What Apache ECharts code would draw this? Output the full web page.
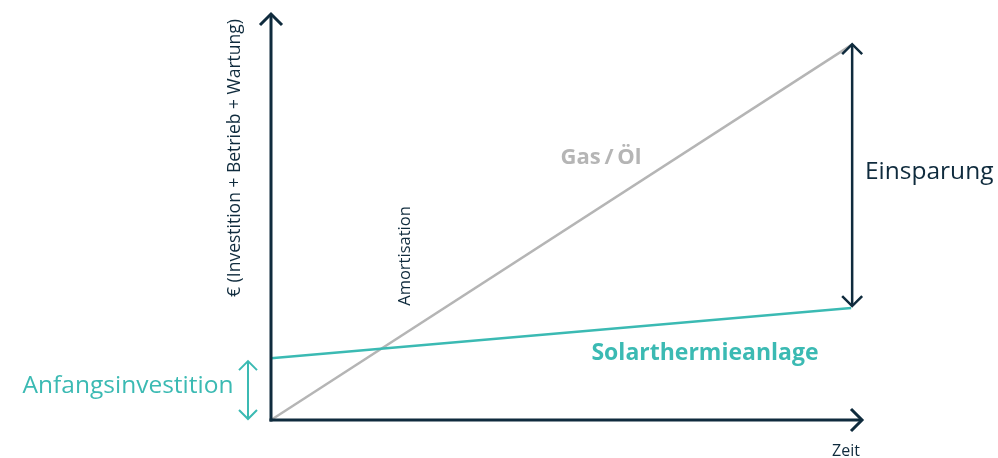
<!DOCTYPE html>
<html>
<head>
<meta charset="utf-8">
<script src="https://cdn.jsdelivr.net/npm/echarts@6/dist/echarts.min.js"></script>
<style>
  html, body { margin: 0; padding: 0; background: #ffffff; }
  #chart { width: 998px; height: 458px; }
</style>
</head>
<body>
<div id="chart"></div>
<script>
// Cost over time: gas/oil heating vs. solar thermal system (schematic)
const time = [0, 9.8];
const gasCost = [0, 9.21];
const solarCost = [1.52, 2.75];
const axisRange = { x: 10, y: 10 };

const NAVY = '#0f2b3d';
const TEAL = '#3bbab3';
const GRAY = '#b5b5b5';
const FONT = '"Open Sans", "Noto Sans", sans-serif';

const chart = echarts.init(document.getElementById('chart'), null, { renderer: 'canvas' });

function chevron(tip, dir, size, style) {
  const px = -dir[1], py = dir[0];
  return {
    type: 'polyline',
    shape: {
      points: [
        [tip[0] - dir[0] * size + px * size, tip[1] - dir[1] * size + py * size],
        tip,
        [tip[0] - dir[0] * size - px * size, tip[1] - dir[1] * size - py * size]
      ]
    },
    style: style
  };
}

function renderArrows(params, api) {
  const o = api.coord([0, 0]);
  const xEnd = api.coord([axisRange.x, 0]);
  const yEnd = api.coord([0, axisRange.y]);
  const axisStyle = { stroke: NAVY, lineWidth: 3, fill: null, lineCap: 'butt', lineJoin: 'miter' };
  const children = [
    { type: 'line', shape: { x1: o[0], y1: o[1] + 1.5, x2: yEnd[0], y2: yEnd[1] + 1 }, style: axisStyle },
    chevron([yEnd[0], yEnd[1] + 1], [0, -1], 11, axisStyle),
    { type: 'line', shape: { x1: o[0] - 1.5, y1: o[1], x2: xEnd[0] - 1, y2: xEnd[1] }, style: axisStyle },
    chevron([xEnd[0] - 1, xEnd[1]], [1, 0], 11, axisStyle)
  ];

  // savings arrow between the two cost lines at the end of the period
  const gEnd = api.coord([time[1], gasCost[1]]);
  const sEnd = api.coord([time[1], solarCost[1]]);
  const saveStyle = { stroke: NAVY, lineWidth: 2.5, fill: null };
  const sx = gEnd[0] + 1;
  children.push(
    { type: 'line', shape: { x1: sx, y1: gEnd[1] - 1, x2: sx, y2: sEnd[1] - 2 }, style: saveStyle },
    chevron([sx, gEnd[1] - 1], [0, -1], 10, saveStyle),
    chevron([sx, sEnd[1] - 2], [0, 1], 10, saveStyle)
  );

  // initial investment arrow left of the y axis
  const iTop = api.coord([0, solarCost[0]]);
  const ix = o[0] - 23;
  const invStyle = { stroke: TEAL, lineWidth: 2, fill: null };
  children.push(
    { type: 'line', shape: { x1: ix, y1: iTop[1] + 3, x2: ix, y2: o[1] - 1 }, style: invStyle },
    chevron([ix, iTop[1] + 3], [0, -1], 9, invStyle),
    chevron([ix, o[1] - 1], [0, 1], 9, invStyle)
  );
  return { type: 'group', children: children };
}

const option = {
  backgroundColor: '#ffffff',
  animation: false,
  grid: { left: 271, right: 135, top: 13, bottom: 38 },
  xAxis: {
    type: 'value', min: 0, max: axisRange.x,
    axisLine: { show: false }, axisTick: { show: false },
    axisLabel: { show: false }, splitLine: { show: false }
  },
  yAxis: {
    type: 'value', min: 0, max: axisRange.y,
    axisLine: { show: false }, axisTick: { show: false },
    axisLabel: { show: false }, splitLine: { show: false }
  },
  series: [
    {
      name: 'Gas / Öl', type: 'line', symbol: 'none', silent: true,
      data: time.map((t, i) => [t, gasCost[i]]),
      lineStyle: { color: GRAY, width: 2.5 }, z: 2
    },
    {
      name: 'Solarthermieanlage', type: 'line', symbol: 'none', silent: true,
      data: time.map((t, i) => [t, solarCost[i]]),
      lineStyle: { color: TEAL, width: 2.5 }, z: 3
    },
    {
      type: 'custom', silent: true, clip: false, z: 5,
      data: [[0, 0]],
      renderItem: renderArrows
    }
  ],
  graphic: [
    {
      type: 'text', x: 235, y: 158, rotation: Math.PI / 2,
      style: { text: '€ (Investition + Betrieb + Wartung)', font: '17.5px ' + FONT, fill: NAVY, align: 'center', verticalAlign: 'middle' }
    },
    {
      type: 'text', x: 405, y: 256, rotation: Math.PI / 2,
      style: { text: 'Amortisation', font: '16.5px ' + FONT, fill: NAVY, align: 'center', verticalAlign: 'middle' }
    },
    {
      type: 'text', x: 601, y: 158,
      style: { text: 'Gas\u2009/\u2009Öl', font: 'bold 22px ' + FONT, fill: GRAY, align: 'center', verticalAlign: 'middle' }
    },
    {
      type: 'text', x: 865, y: 172,
      style: { text: 'Einsparung', font: '24.5px ' + FONT, fill: NAVY, align: 'left', verticalAlign: 'middle' }
    },
    {
      type: 'text', x: 705, y: 353,
      style: { text: 'Solarthermieanlage', font: 'bold 23px ' + FONT, fill: TEAL, align: 'center', verticalAlign: 'middle' }
    },
    {
      type: 'text', x: 128, y: 386,
      style: { text: 'Anfangsinvestition', font: '24.5px ' + FONT, fill: TEAL, align: 'center', verticalAlign: 'middle' }
    },
    {
      type: 'text', x: 846, y: 451,
      style: { text: 'Zeit', font: '16px ' + FONT, fill: NAVY, align: 'center', verticalAlign: 'middle' }
    }
  ]
};

chart.setOption(option);
</script>
</body>
</html>
